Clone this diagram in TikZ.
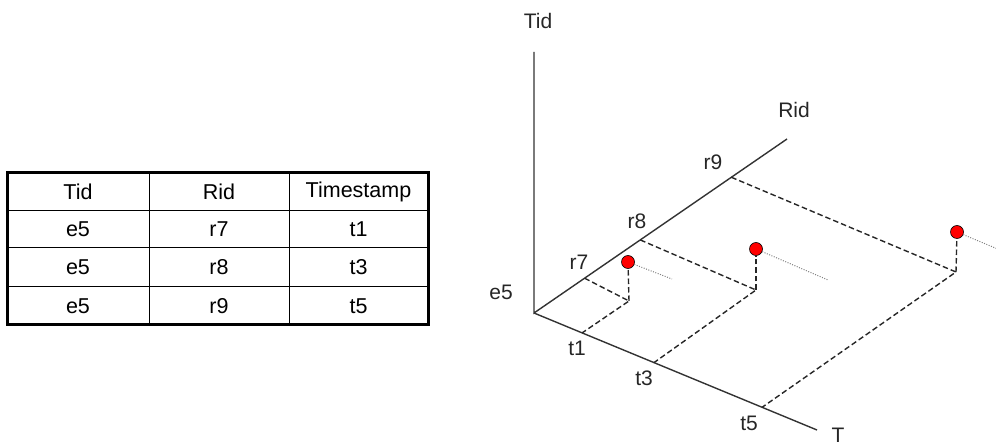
\documentclass[tikz,border=0pt]{standalone}
\usepackage{fontspec}
\setmainfont{Liberation Sans}
\usetikzlibrary{calc}
\begin{document}
\begin{tikzpicture}[x=1pt,y=-1pt,
  axis/.style={line width=1.4pt,draw=black!80},
  proj/.style={line width=1.4pt,draw=black!85,dash pattern=on 5.5pt off 3pt},
  trail/.style={line width=1pt,draw=black!50,dash pattern=on 1pt off 1.5pt},
  pt/.style={circle,fill=red,draw=black,line width=0.6pt,inner sep=0pt,minimum size=13pt},
  lbl/.style={font=\fontsize{21}{23}\selectfont,inner sep=0pt,text=black!85},
  cell/.style={font=\fontsize{21.5}{23}\selectfont,inner sep=0pt},
  thick border/.style={line width=3pt},
  grid line/.style={line width=1pt}]
\useasboundingbox (0,0) rectangle (996,446);
% ---------- table ----------
\draw[grid line] (149,173) -- (149,325) (289,173) -- (289,325);
\draw[grid line] (7,211) -- (428,211) (7,248) -- (428,248) (7,287) -- (428,287);
\draw[thick border] (7,173) rectangle (428,325);
\node[cell] (h1) at (78,192) {Tid};
\node[cell] (h2) at (219,192) {Rid};
\node[cell] (h3) at (358.5,192) {Timestamp};
\node[cell] (a1) at (78,229.5) {e5};
\node[cell] (a2) at (219,229.5) {r7};
\node[cell] (a3) at (358.5,229.5) {t1};
\node[cell] (b1) at (78,267.5) {e5};
\node[cell] (b2) at (219,267.5) {r8};
\node[cell] (b3) at (358.5,267.5) {t3};
\node[cell] (c1n) at (78,306) {e5};
\node[cell] (c2n) at (219,306) {r9};
\node[cell] (c3n) at (358.5,306) {t5};
% ---------- axes ----------
\coordinate (O) at (534,313);
\coordinate (TidEnd) at (534,52);
\coordinate (RidEnd) at (787,139);
\coordinate (TEnd) at (817,430);
\draw[axis] (TidEnd) -- (O) -- (RidEnd);
\draw[axis] (O) -- (TEnd);
\coordinate (r7) at ($(O)!0.2!(RidEnd)$);
\coordinate (r8) at ($(O)!0.42!(RidEnd)$);
\coordinate (r9) at ($(O)!0.78!(RidEnd)$);
\coordinate (t1) at ($(O)!0.17!(TEnd)$);
\coordinate (t3) at ($(O)!0.424!(TEnd)$);
\coordinate (t5) at ($(O)!0.806!(TEnd)$);
% corners and points
\coordinate (c1) at (629,301);
\coordinate (c2) at (756,290);
\coordinate (c3) at (956,272);
\node[pt] (d1) at (628,262) {};
\node[pt] (d2) at (756,249) {};
\node[pt] (d3) at (957,232) {};
\coordinate (e1) at (672,279);
\coordinate (e2) at (828,280);
\coordinate (e3) at (1000,250);
% projections
\draw[proj] (r7) -- (c1) -- (t1);
\draw[proj] (r8) -- (c2) -- (t3);
\draw[proj] (r9) -- (c3) -- (t5);
\draw[proj] (c1) -- (d1);
\draw[proj] (c2) -- (d2);
\draw[proj] (c3) -- (d3);
\draw[trail] (d1) -- (e1);
\draw[trail] (d2) -- (e2);
\draw[trail] (d3) -- (e3);
% labels
\node[lbl] (lTid) at (538,21) {Tid};
\node[lbl] (lRid) at (794,110) {Rid};
\node[lbl] (lT) at (838,435) {T};
\node[lbl] (le5) at (501,292) {e5};
\node[lbl] (lr7) at (579,262) {r7};
\node[lbl] (lr8) at (637,221) {r8};
\node[lbl] (lr9) at (713,162) {r9};
\node[lbl] (lt1) at (577,348) {t1};
\node[lbl] (lt3) at (644,378) {t3};
\node[lbl] (lt5) at (749,423) {t5};
\end{tikzpicture}
\end{document}
